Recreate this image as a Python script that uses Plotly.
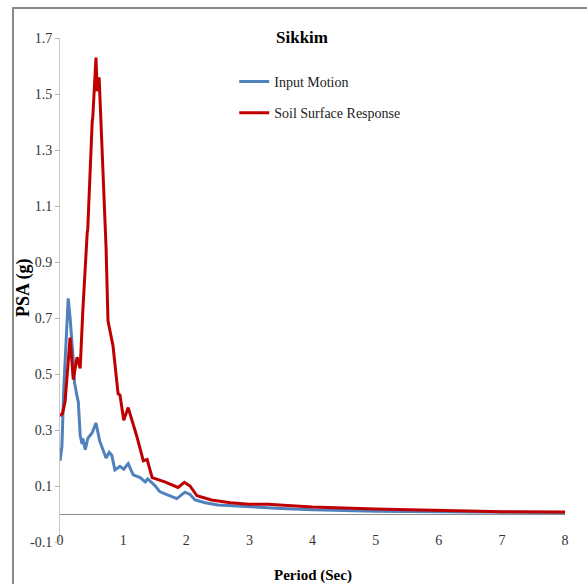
import plotly.graph_objects as go

# Response spectra, Sikkim: period (s) vs pseudo-spectral acceleration (g)
input_period = [0.00, 0.03, 0.06, 0.10, 0.13, 0.16, 0.19, 0.21, 0.23, 0.25, 0.27, 0.29,
                0.32, 0.35, 0.36, 0.40, 0.44, 0.51, 0.57, 0.63, 0.70, 0.73, 0.78, 0.82,
                0.87, 0.95, 1.01, 1.08, 1.16, 1.27, 1.35, 1.39, 1.51, 1.58, 1.74, 1.85,
                1.98, 2.06, 2.14, 2.30, 2.50, 2.80, 3.00, 3.50, 4.00, 5.00, 6.00, 7.00, 8.00]
input_psa = [0.19, 0.24, 0.45, 0.62, 0.77, 0.70, 0.62, 0.55, 0.47, 0.44, 0.42, 0.40,
             0.28, 0.25, 0.27, 0.23, 0.27, 0.29, 0.325, 0.26, 0.22, 0.20, 0.22, 0.21,
             0.157, 0.17, 0.16, 0.18, 0.14, 0.13, 0.115, 0.125, 0.10, 0.08, 0.065, 0.055,
             0.078, 0.07, 0.05, 0.04, 0.032, 0.028, 0.025, 0.02, 0.015, 0.01, 0.008, 0.006, 0.005]

surface_period = [0.00, 0.04, 0.08, 0.12, 0.16, 0.21, 0.27, 0.32, 0.36, 0.43, 0.44, 0.51,
                  0.52, 0.57, 0.59, 0.62, 0.63, 0.68, 0.73, 0.76, 0.84, 0.92, 0.95, 1.01,
                  1.08, 1.14, 1.22, 1.32, 1.38, 1.46, 1.66, 1.87, 1.97, 2.06, 2.17, 2.40,
                  2.70, 3.00, 3.30, 3.60, 4.00, 5.00, 6.00, 7.00, 8.00]
surface_psa = [0.35, 0.36, 0.40, 0.52, 0.63, 0.48, 0.56, 0.52, 0.72, 1.00, 1.02, 1.40,
               1.42, 1.63, 1.51, 1.56, 1.50, 1.24, 0.95, 0.69, 0.60, 0.43, 0.425, 0.335,
               0.38, 0.335, 0.275, 0.19, 0.195, 0.13, 0.115, 0.095, 0.113, 0.10, 0.065, 0.05,
               0.04, 0.035, 0.035, 0.03, 0.025, 0.018, 0.013, 0.008, 0.007]

y_ticks = [-0.1, 0.1, 0.3, 0.5, 0.7, 0.9, 1.1, 1.3, 1.5, 1.7]
x_ticks = [0, 1, 2, 3, 4, 5, 6, 7, 8]

serif = "Liberation Serif"

# plot area in pixels: x 60..565, y 38..542
L, R, T, B = 60, 565, 38, 542
W, H = R - L, B - T


def px_x(p):
    return (p - L) / W


def px_y(p):
    return (B - p) / H


fig = go.Figure()
fig.add_trace(go.Scatter(x=input_period, y=input_psa, mode="lines", name="Input Motion",
                         legendgroup="a", line=dict(color="#4F81BD", width=3)))
fig.add_trace(go.Scatter(x=surface_period, y=surface_psa, mode="lines",
                         name="Soil Surface Response", legendgroup="b",
                         line=dict(color="#C00000", width=3)))

fig.update_layout(
    width=587, height=584,
    margin=dict(l=L, r=587 - R, t=T, b=584 - B),
    paper_bgcolor="white", plot_bgcolor="white",
    font=dict(family=serif, color="#222222", size=14),
    title=dict(text="<b>Sikkim</b>", x=px_x(302), xref="paper", xanchor="center",
               y=1 - 37 / 584, yanchor="middle",
               font=dict(family=serif, size=17, color="black")),
    legend=dict(x=0.345, y=px_y(66), xanchor="left", yanchor="top", bgcolor="rgba(0,0,0,0)",
                traceorder="grouped", tracegroupgap=10,
                font=dict(family=serif, size=14, color="#222222"),
                itemwidth=30),
    showlegend=True,
)

fig.update_xaxes(
    range=[0, 8], tickvals=x_ticks, ticktext=[str(v) for v in x_ticks],
    showgrid=False, showline=False, zeroline=False, ticks="",
    ticklabelstandoff=-12, tickfont=dict(family=serif, size=14, color="#333333"),
)
fig.update_yaxes(
    range=[-0.1, 1.7], tickvals=y_ticks, ticktext=[f"{v:.1f}" for v in y_ticks],
    showgrid=False, showline=True, linecolor="#c8c8c8", linewidth=1,
    ticks="outside", ticklen=4, tickcolor="#b0b0b0",
    zeroline=True, zerolinecolor="#8c8c8c", zerolinewidth=1,
    tickfont=dict(family=serif, size=14, color="#333333"),
)

# Axis titles
fig.add_annotation(text="<b>PSA (g)</b>", xref="paper", yref="paper",
                   x=px_x(23), y=px_y(288), textangle=-90, showarrow=False,
                   xanchor="center", yanchor="middle",
                   font=dict(family=serif, size=18, color="black"))
fig.add_annotation(text="<b>Period (Sec)</b>", xref="paper", yref="paper",
                   x=px_x(313), y=px_y(575), showarrow=False,
                   xanchor="center", yanchor="middle",
                   font=dict(family=serif, size=15, color="black"))

# Outer frame of the chart area
fig.add_shape(type="rect", xref="paper", yref="paper",
              x0=px_x(13), x1=px_x(620), y0=px_y(620), y1=px_y(8),
              line=dict(color="#8a8a8a", width=2), layer="below")

fig.write_html("out.html")
